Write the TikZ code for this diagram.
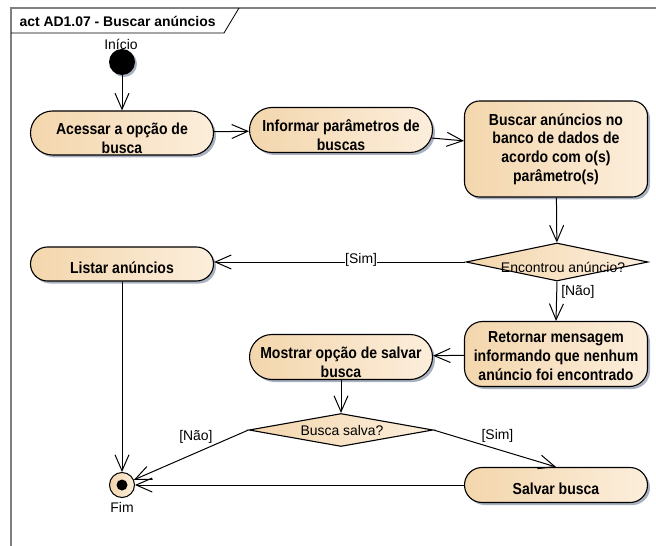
\documentclass[tikz,border=0pt]{standalone}
\usepackage{fontspec}
\setmainfont{Liberation Sans}
\newfontfamily\actfont{Liberation Sans}[FakeStretch=0.88]
\usetikzlibrary{arrows.meta,shapes.misc,shapes.geometric,shadows}

\definecolor{actL}{HTML}{F3D6AC}
\definecolor{actR}{HTML}{FCEEDC}
\definecolor{shadec}{HTML}{A9B1C0}
\definecolor{framec}{HTML}{808080}

\begin{document}
\begin{tikzpicture}[x=1bp,y=-1bp,
  every node/.style={font=\fontsize{14}{17}\selectfont},
  actshape/.style={draw=black, line width=1.1bp, left color=actL, right color=actR,
    drop shadow={shadow xshift=2.5bp, shadow yshift=-2.5bp, fill=shadec, opacity=1},
    inner sep=0pt},
  acttext/.style={font=\actfont\bfseries\fontsize{16}{18.7}\selectfont,
    align=center, inner sep=0pt},
  pill/.style={actshape, rounded rectangle, minimum width=183bp, minimum height=44bp},
  boxr/.style={actshape, acttext, rectangle, rounded corners=15bp, minimum width=183bp},
  decision/.style={draw=black, line width=1.1bp, left color=actL, right color=actR,
    diamond, inner sep=0pt, minimum width=182bp, minimum height=38bp},
  flow/.style={draw=black, line width=1bp,
    -{Straight Barb[length=16bp,width=14bp,line width=1bp]}},
  guard/.style={font=\fontsize{14}{17}\selectfont, inner sep=1pt}
]
% canvas
\fill[white] (0,0) rectangle (656,546);
\useasboundingbox (0,0) rectangle (656,546);

% diagram frame and title tab
\draw[framec, line width=1.6bp] (11,546) -- (11,8) -- (656,8);
\draw[line width=0.8bp] (11,33) -- (224,33) -- (239,8);
\node[anchor=west, font=\bfseries\fontsize{14}{17}\selectfont] (title) at (16,21)
  {act AD1.07 - Buscar anúncios};

% initial and final nodes
\node[circle, fill=black, minimum size=26bp, inner sep=0pt,
  drop shadow={shadow xshift=2bp, shadow yshift=-2bp, fill=shadec, opacity=1}] (ini) at (122,62) {};
\node (inil) at (121,44) {Início};
\node[circle, draw=black, line width=1bp, left color=actL, right color=actR,
  minimum size=25bp, inner sep=0pt] (fim) at (122,485) {};
\node[circle, fill=black, minimum size=11bp, inner sep=0pt] (fimdot) at (fim) {};
\node (fiml) at (122,507) {Fim};

% actions
\node[pill] (a1) at (122,133) {};
\node[acttext] (a1t) at ([yshift=-5bp]a1) {Acessar a opção de\\busca};
\node[pill, minimum height=45bp] (a2) at (341,130) {};
\node[acttext] (a2t) at ([yshift=-5bp]a2) {Informar parâmetros de\\buscas};
\node[boxr, minimum height=96bp] (a3) at (556,149)
  {Buscar anúncios no\\banco de dados de\\acordo com o(s)\\parâmetro(s)};
\node[decision] (d1) at (557,262) {};
\node (d1t) at (563,267) {Encontrou anúncio?};
\node[pill, minimum height=34bp] (listar) at (122,264) {};
\node[acttext] (listart) at ([yshift=-4bp]listar) {Listar anúncios};
\node[boxr, rounded corners=18bp, minimum height=65bp] (a4) at (556,354) {};
\node[acttext] (a4t) at ([yshift=-2bp]a4)
  {Retornar mensagem\\informando que nenhum\\anúncio foi encontrado};
\node[pill, minimum height=45bp] (a5) at (341,357) {};
\node[acttext] (a5t) at ([yshift=-5bp]a5) {Mostrar opção de salvar\\busca};
\node[decision, minimum width=184bp, minimum height=33bp] (d2) at (341,430) {};
\node (d2t) at (342,431) {Busca salva?};
\node[pill, minimum height=35bp] (salvar) at (556,485) {};
\node[acttext] (salvart) at ([yshift=-4bp]salvar) {Salvar busca};

% control flows
\draw[flow] (ini) -- (a1);
\draw[flow] (a1) -- (a2);
\draw[flow] (a2) -- (a3);
\draw[flow] (a3) -- (d1);
\draw[flow] (d1.west) -- node[guard, fill=white, pos=0.415, yshift=2bp, inner sep=0.3bp] {[Sim]}
  (d1.west -| listar.east);
\draw[flow] (d1.south) -- node[guard, anchor=west, pos=0.25, xshift=3bp] {[Não]} (a4.north);
\draw[flow] (a4) -- (a5);
\draw[flow] (a5) -- (d2);
\draw[flow] (d2.west) -- node[guard, anchor=south east, pos=0.3] {[Não]} (fim);
\draw[flow] (d2.east) -- node[guard, anchor=south west, pos=0.38] {[Sim]} (salvar.north);
\draw[flow] (salvar.west) -- (fim);
\draw[flow] (listar) -- (fim);
\end{tikzpicture}
\end{document}
